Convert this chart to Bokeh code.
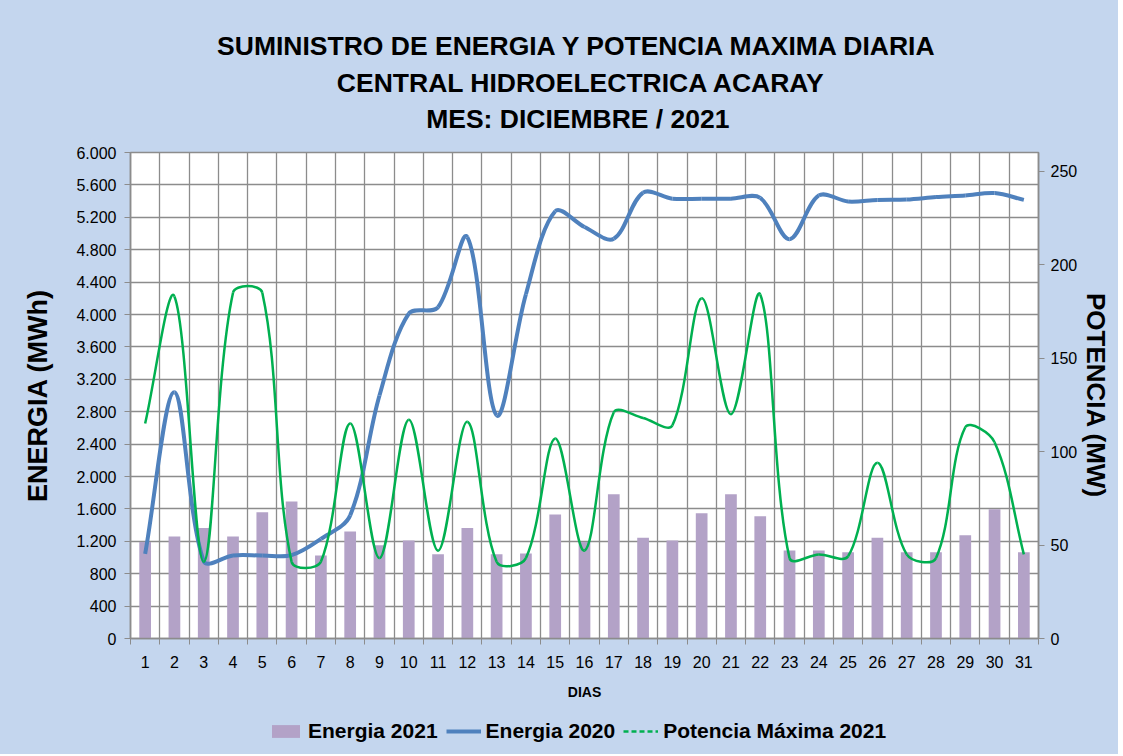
import math
from bokeh.plotting import figure
from bokeh.layouts import column
from bokeh.models import (Range1d, LinearAxis, FixedTicker, Legend, LegendItem, Label)
from bokeh.embed import file_html
from bokeh.resources import INLINE

# ---------------- data ----------------
days = list(range(1, 32))
day_labels = [str(d) for d in days]
energia_2021 = [1190, 1260, 1365, 1260, 1560, 1690, 1025, 1320, 1150, 1210, 1040,
                1365, 1040, 1050, 1530, 1190, 1780, 1245, 1210, 1545, 1780, 1510,
                1085, 1085, 1065, 1245, 1065, 1065, 1275, 1595, 1065]
energia_2020 = [1045, 3040, 955, 1025, 1025, 1030, 1230, 1520, 3000, 4010, 4090,
                4955, 2755, 4250, 5275, 5080, 4935, 5505, 5430, 5430, 5430, 5440,
                4930, 5470, 5395, 5415, 5420, 5450, 5470, 5500, 5415]
potencia_2021 = [115, 183, 41, 185, 185, 41, 41, 115, 43, 117, 47, 116, 41, 43,
                 107, 47, 121, 118, 114, 182, 120, 184, 43, 45, 44, 94, 45, 43,
                 113, 105, 45]
left_ticks = [0, 400, 800, 1200, 1600, 2000, 2400, 2800, 3200, 3600, 4000, 4400,
              4800, 5200, 5600, 6000]
left_labels = ["0", "400", "800", "1.200", "1.600", "2.000", "2.400", "2.800",
               "3.200", "3.600", "4.000", "4.400", "4.800", "5.200", "5.600", "6.000"]
right_ticks = [0, 50, 100, 150, 200, 250]
title_lines = ["SUMINISTRO DE ENERGIA  Y POTENCIA MAXIMA DIARIA",
               "CENTRAL HIDROELECTRICA ACARAY",
               "MES:  DICIEMBRE / 2021"]
series_names = ["Energia 2021", "Energia 2020", "Potencia Máxima 2021"]

# ---------------- style ----------------
FONT = "Liberation Sans"
BG = "#C4D6EE"
GRID = "#8C8C8C"
BAR = "#B3A2C7"
BLUE = "#4F81BD"
GREEN = "#00B050"

W = 1118
H_TITLE, H_MAIN, H_LEG = 140, 570, 44
ML, MR, MT, MB = 130, 80, 12, 72
FRAME_L, FRAME_R = ML, W - MR
frame_w = W - ML - MR
frame_h = H_MAIN - MT - MB
YMAX_L, YMAX_R = 6000, 260


def excel_smooth(xs, ys, sx, sy):
    """Bezier segments through the data points (Excel-like smoothing,
    tangents scaled by chord lengths in screen space)."""
    pts = [(x * sx, y * sy) for x, y in zip(xs, ys)]
    n = len(pts)
    out = {k: [] for k in ("x0", "y0", "x1", "y1", "cx0", "cy0", "cx1", "cy1")}
    for i in range(n - 1):
        p0 = pts[i - 1] if i > 0 else pts[i]
        p1, p2 = pts[i], pts[i + 1]
        p3 = pts[i + 2] if i + 2 < n else pts[i + 1]
        d01 = math.dist(p0, p1)
        d12 = math.dist(p1, p2)
        d23 = math.dist(p2, p3)
        f1 = d12 / (d01 + d12) / 3 if d01 + d12 > 0 else 0
        f2 = d12 / (d12 + d23) / 3 if d12 + d23 > 0 else 0
        c1 = (p1[0] + (p2[0] - p0[0]) * f1, p1[1] + (p2[1] - p0[1]) * f1)
        c2 = (p2[0] - (p3[0] - p1[0]) * f2, p2[1] - (p3[1] - p1[1]) * f2)
        out["x0"].append(p1[0] / sx); out["y0"].append(p1[1] / sy)
        out["x1"].append(p2[0] / sx); out["y1"].append(p2[1] / sy)
        out["cx0"].append(c1[0] / sx); out["cy0"].append(c1[1] / sy)
        out["cx1"].append(c2[0] / sx); out["cy1"].append(c2[1] / sy)
    return out


def blank_fig(h, yr):
    f = figure(width=W, height=h, x_range=Range1d(FRAME_L, FRAME_R), y_range=yr,
               output_backend="svg", toolbar_location=None,
               x_axis_location=None, y_axis_location=None, min_border=0)
    f.grid.visible = False
    f.outline_line_color = None
    f.background_fill_alpha = 0
    f.border_fill_alpha = 0
    return f


# ---------------- title block ----------------
ft = blank_fig(H_TITLE, Range1d(H_TITLE, 0))
for line, ty in zip(title_lines, [45, 82, 118]):
    ft.add_layout(Label(x=581, y=ty, text=line, text_align="center",
                        text_baseline="middle", text_font=FONT,
                        text_font_size="26.5px", text_font_style="bold",
                        text_color="black"))

# ---------------- main chart ----------------
p = figure(width=W, height=H_MAIN, x_range=Range1d(0.5, 31.5), y_range=Range1d(0, YMAX_L),
           output_backend="svg", toolbar_location=None,
           min_border_left=ML, min_border_right=MR, min_border_top=MT, min_border_bottom=MB)
p.extra_y_ranges = {"pot": Range1d(0, YMAX_R)}
p.background_fill_color = "white"
p.border_fill_color = BG
p.outline_line_color = GRID
p.outline_line_width = 1.5
p.title.visible = False

boundaries = [d - 0.5 for d in days] + [days[-1] + 0.5]
p.xgrid.ticker = FixedTicker(ticks=boundaries)
p.xgrid.grid_line_color = GRID
p.xgrid.grid_line_width = 1.3
p.ygrid.grid_line_color = GRID
p.ygrid.grid_line_width = 1.3

xa = p.xaxis[0]
xa.ticker = FixedTicker(ticks=days, minor_ticks=boundaries)
xa.major_label_overrides = {d: l for d, l in zip(days, day_labels)}
xa.major_tick_line_color = None
xa.minor_tick_in = 0
xa.minor_tick_out = 6
xa.minor_tick_line_color = GRID
xa.axis_line_color = GRID
xa.axis_line_width = 1.5
xa.major_label_text_font = FONT
xa.major_label_text_font_size = "16px"
xa.major_label_text_color = "black"
xa.major_label_standoff = 11
xa.axis_label = "DIAS"
xa.axis_label_text_font = FONT
xa.axis_label_text_font_size = "14px"
xa.axis_label_text_font_style = "bold"
xa.axis_label_text_color = "black"
xa.axis_label_standoff = 13

ya = p.yaxis[0]
ya.ticker = FixedTicker(ticks=left_ticks)
ya.major_label_overrides = {t: l for t, l in zip(left_ticks, left_labels)}
ya.major_tick_in = 0
ya.major_tick_out = 6
ya.major_tick_line_color = GRID
ya.minor_tick_line_color = None
ya.axis_line_color = GRID
ya.axis_line_width = 1.5
ya.major_label_text_font = FONT
ya.major_label_text_font_size = "16px"
ya.major_label_text_color = "black"
ya.major_label_standoff = 8
ya.axis_label = "ENERGIA (MWh)"
ya.axis_label_text_font = FONT
ya.axis_label_text_font_size = "27px"
ya.axis_label_text_font_style = "bold"
ya.axis_label_text_color = "black"
ya.axis_label_standoff = 20

ra = LinearAxis(y_range_name="pot", ticker=FixedTicker(ticks=right_ticks))
ra.major_tick_in = 0
ra.major_tick_out = 6
ra.major_tick_line_color = GRID
ra.minor_tick_line_color = None
ra.axis_line_color = GRID
ra.axis_line_width = 1.5
ra.major_label_text_font = FONT
ra.major_label_text_font_size = "16px"
ra.major_label_text_color = "black"
ra.major_label_standoff = 6
ra.axis_label = "POTENCIA (MW)"
ra.axis_label_text_font = FONT
ra.axis_label_text_font_size = "26px"
ra.axis_label_text_font_style = "bold"
ra.axis_label_text_color = "black"
ra.axis_label_text_line_height = 1.0
ra.axis_label_standoff = 1
p.add_layout(ra, "right")

p.vbar(x=days, top=energia_2021, width=0.4, fill_color=BAR, line_color=None)

sx = frame_w / 31.0
b20 = excel_smooth(days, energia_2020, sx, frame_h / YMAX_L)
p.bezier(line_color=BLUE, line_width=4, **b20)
pot = excel_smooth(days, potencia_2021, sx, frame_h / YMAX_R)
p.bezier(line_color=GREEN, line_width=2.5, y_range_name="pot", **pot)

# ---------------- legend block ----------------
fl = blank_fig(H_LEG, Range1d(0, 1))
nan = float("nan")
lg_bar = fl.vbar(x=[nan], top=[nan], width=0.4, fill_color=BAR, line_color=None)
lg_blue = fl.line(x=[nan, nan], y=[nan, nan], line_color=BLUE, line_width=4)
lg_green = fl.line(x=[nan, nan], y=[nan, nan], line_color=GREEN, line_width=2.5,
                   line_dash="5 3")
legend = Legend(items=[LegendItem(label=series_names[0], renderers=[lg_bar]),
                       LegendItem(label=series_names[1], renderers=[lg_blue]),
                       LegendItem(label=series_names[2], renderers=[lg_green])],
                orientation="horizontal", location=(138, 11),
                background_fill_alpha=0, border_line_color=None,
                label_text_font=FONT, label_text_font_size="21px",
                label_text_font_style="bold", label_text_color="black",
                glyph_width=35, glyph_height=16, spacing=8, label_standoff=5,
                padding=2, margin=0)
fl.add_layout(legend)

layout = column(ft, p, fl, spacing=0, styles={"background-color": BG})
open("out.html", "w").write(file_html(layout, INLINE))
